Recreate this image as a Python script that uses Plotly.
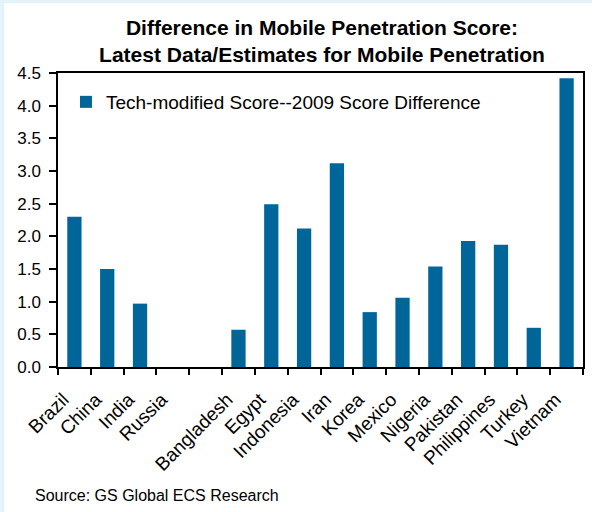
import plotly.graph_objects as go

countries = ["Brazil", "China", "India", "Russia", " ", "Bangladesh", "Egypt",
             "Indonesia", "Iran", "Korea", "Mexico", "Nigeria", "Pakistan",
             "Philippines", "Turkey", "Vietnam"]
values = [2.30, 1.50, 0.97, 0.0, None, 0.57, 2.49, 2.12, 3.12, 0.84, 1.06,
          1.54, 1.93, 1.87, 0.60, 4.42]
series_name = "Tech-modified Score--2009 Score Difference"
title_text = ("<b>Difference in Mobile Penetration Score:</b><br>"
              "<b>Latest Data/Estimates for Mobile Penetration</b>")
source_text = "Source: GS Global ECS Research"

W, H = 594, 512
ML, MR, MT, MB = 58, 9, 73, 145
PW, PH = W - ML - MR, H - MT - MB

def px_x(px):
    return (px - ML) / PW

def px_y(py):
    return (H - MB - py) / PH

FONT = "Liberation Sans, Arial, sans-serif"
BAR = "#00669A"
EDGE = "#E3F3F9"

# trailing non-breaking spaces nudge the rotated labels left like the original
tick_text = [c + "\u00a0\u00a0\u00a0" if c.strip() else c for c in countries]

fig = go.Figure()
fig.add_trace(go.Bar(x=countries, y=values, name=series_name,
                     marker=dict(color=BAR, line=dict(width=0)),
                     showlegend=True))

fig.update_layout(
    width=W, height=H,
    margin=dict(l=ML, r=MR, t=MT, b=MB, pad=0),
    paper_bgcolor="white", plot_bgcolor="white",
    font=dict(family=FONT, color="black", size=17),
    title=dict(text=title_text, x=322 / W, xanchor="center",
               y=1 - 35 / H, yanchor="top",
               font=dict(family=FONT, size=21, color="black")),
    bargap=0.565,
    showlegend=True,
    legend=dict(x=px_x(66), xanchor="left", y=px_y(102), yanchor="middle",
                bgcolor="rgba(0,0,0,0)", borderwidth=0,
                font=dict(family=FONT, size=19, color="black")),
    xaxis=dict(type="category", categoryorder="array", categoryarray=countries,
               tickmode="array", tickvals=countries, ticktext=tick_text,
               showline=True, linecolor="black", linewidth=1.5, mirror=True,
               ticks="outside", ticklen=6, tickwidth=1.5, tickcolor="black",
               tickson="boundaries", tickangle=-45, showgrid=False,
               ticklabelstandoff=1,
               tickfont=dict(family=FONT, size=19, color="black")),
    yaxis=dict(range=[0, 4.5], dtick=0.5, tickformat=".1f",
               showline=True, linecolor="black", linewidth=1.5, mirror=True,
               ticks="outside", ticklen=7, tickwidth=1.5, tickcolor="black",
               showgrid=False, zeroline=False, ticklabelstandoff=5,
               tickfont=dict(family=FONT, size=17, color="black")),
    shapes=[
        dict(type="rect", xref="paper", yref="paper", layer="below",
             x0=px_x(0), x1=px_x(4), y0=px_y(H), y1=px_y(0),
             fillcolor=EDGE, line=dict(width=0)),
        dict(type="rect", xref="paper", yref="paper", layer="below",
             x0=px_x(0), x1=px_x(W), y0=px_y(3), y1=px_y(0),
             fillcolor=EDGE, line=dict(width=0)),
    ],
    annotations=[
        dict(text=source_text, xref="paper", yref="paper",
             x=px_x(33), xanchor="left", y=px_y(495), yanchor="middle",
             showarrow=False, font=dict(family=FONT, size=16, color="black")),
    ],
)

fig.write_html("out.html",
               config={"displayModeBar": False},
               post_script="document.body.style.margin='0';"
                           "document.body.style.overflow='hidden';")
